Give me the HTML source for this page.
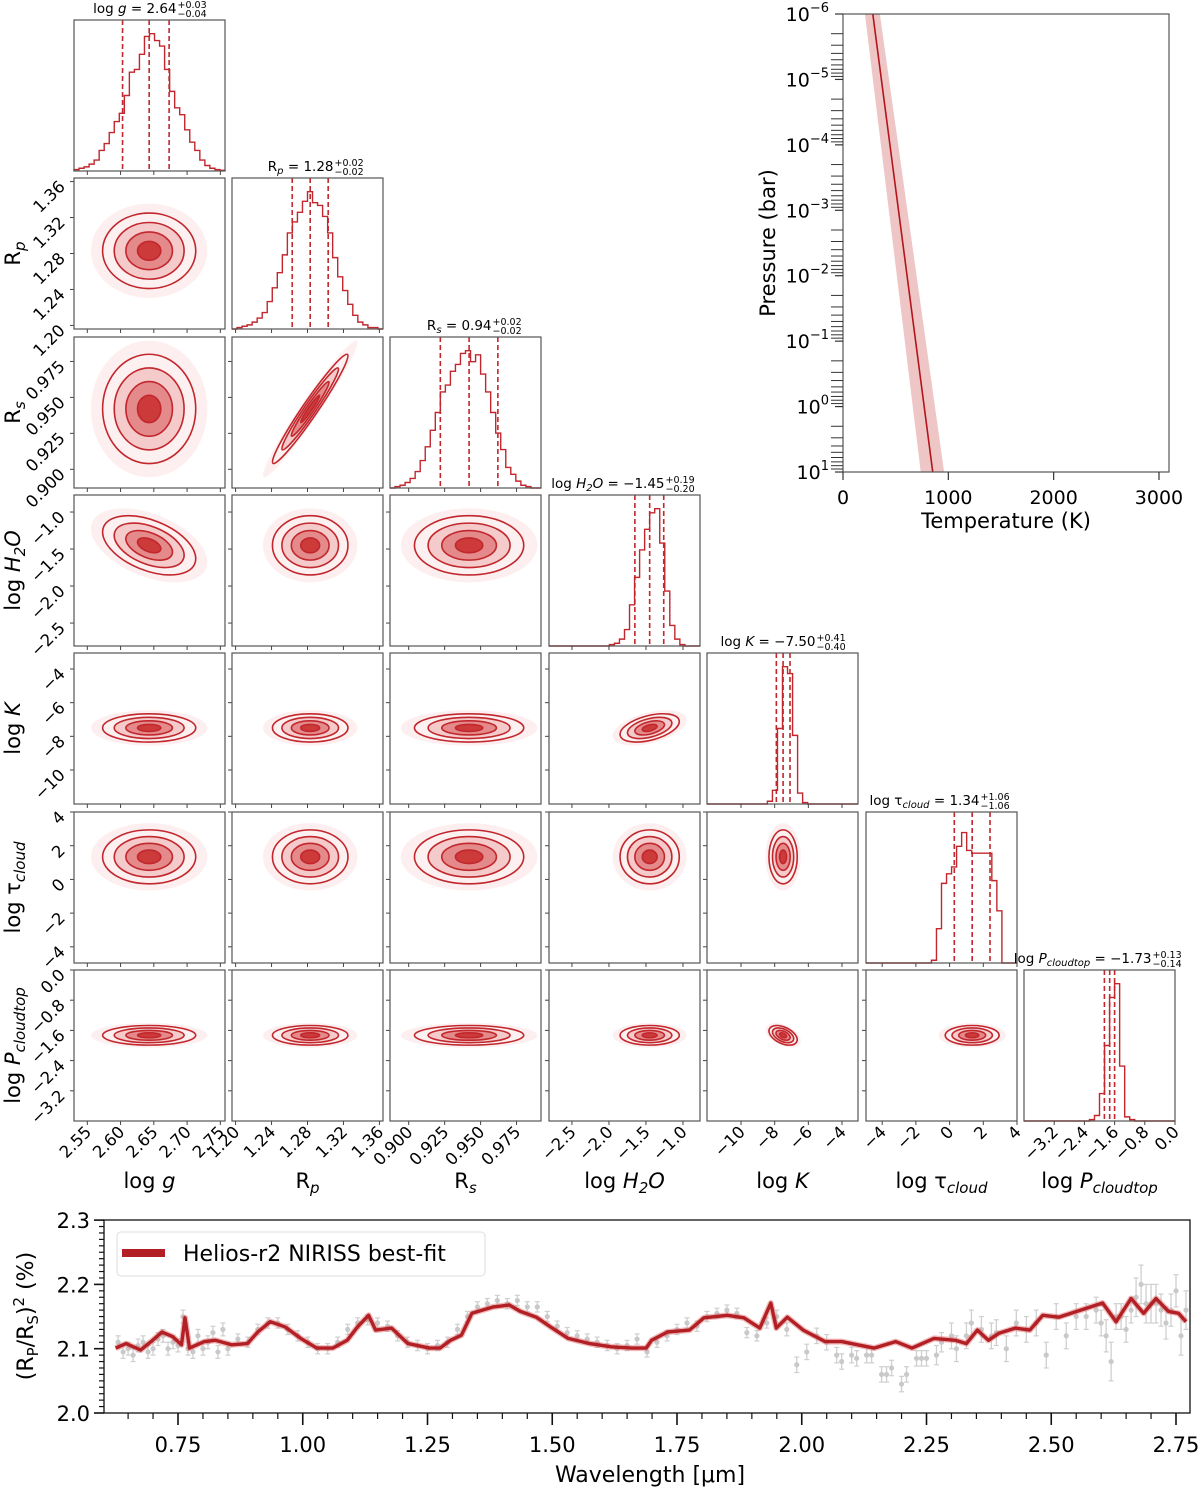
<!DOCTYPE html>
<html><head><meta charset="utf-8">
<style>body{margin:0;background:#fff}svg{display:block;font-family:"DejaVu Sans","Liberation Sans",sans-serif}</style>
</head><body>
<svg id="fig" width="1200" height="1490" viewBox="0 0 1200 1490"></svg>
<script>
// ---------- corner plot data ----------
const paramMin=[2.530,1.196,0.887,-2.81,-12.02,-4.96,-4.0];
const paramMax=[2.757,1.364,0.992,-0.77,-3.05,4.0,0.0];
const medians=[2.643,1.283,0.942,-1.45,-7.50,1.34,-1.73];
const errPlus=[0.03,0.02,0.02,0.19,0.41,1.06,0.13];
const errMinus=[0.04,0.02,0.02,0.20,0.40,1.06,0.14];
const sigmas=[0.035,0.021,0.019,0.2,0.42,0.8,0.13];
const correlations=[[0,3,-0.45],[1,2,0.97],[3,4,0.45],[4,6,-0.45]];
const tickVals=[[2.55,2.60,2.65,2.70,2.75],[1.20,1.24,1.28,1.32,1.36],[0.900,0.925,0.950,0.975],[-2.5,-2.0,-1.5,-1.0],[-10,-8,-6,-4],[-4,-2,0,2,4],[-3.2,-2.4,-1.6,-0.8,0.0]];
const tickDec=[2,2,3,1,0,0,1];
const hist0=[0.01,0.02,0.03,0.05,0.08,0.15,0.2,0.28,0.36,0.42,0.55,0.72,0.74,0.85,0.98,1.0,0.95,0.91,0.74,0.58,0.46,0.41,0.3,0.21,0.15,0.08,0.04,0.02,0.01,0.005];
const hist1=[0,0.01,0.02,0.03,0.05,0.08,0.12,0.2,0.3,0.41,0.54,0.7,0.78,0.85,0.93,1.0,0.92,0.9,0.82,0.7,0.52,0.38,0.28,0.18,0.1,0.05,0.03,0.01,0.01,0];
const hist2=[0,0.01,0.02,0.04,0.07,0.12,0.2,0.3,0.42,0.55,0.7,0.75,0.85,0.9,0.98,1.0,0.92,0.97,0.83,0.7,0.55,0.4,0.28,0.15,0.1,0.05,0.02,0.01,0,0];
const hist3=[0,0,0,0,0,0,0,0,0,0,0,0,0.01,0.02,0.05,0.12,0.3,0.5,0.7,0.85,0.97,1.0,0.75,0.4,0.15,0.05,0.01,0,0,0];
const hist4=[0,0,0,0,0,0,0,0,0,0,0,0,0.02,0.1,0.55,1.0,0.95,0.5,0.08,0.01,0,0,0,0,0,0,0,0,0,0];
const hist5=[0,0,0,0,0,0,0,0,0,0,0,0,0,0.02,0.25,0.58,0.65,0.7,0.85,0.95,0.82,0.8,0.8,0.8,0.8,0.6,0.38,0,0,0];
const hist6=[0,0,0,0,0,0,0,0,0,0,0,0,0,0.01,0.04,0.2,0.55,0.9,1.0,0.4,0.03,0.01,0,0,0,0,0,0,0,0];
const hists=[hist0,hist1,hist2,hist3,hist4,hist5,hist6];
// ---------- T-P data ----------
const tpLogP=[-6,1];
const tpTemp=[283,852];
const tpLow=[208,738];
const tpHigh=[350,960];
// ---------- spectrum data ----------
const modelWl=[0.625,0.646,0.675,0.696,0.718,0.739,0.757,0.764,0.773,0.803,0.825,0.857,0.889,0.910,0.935,0.964,0.996,1.028,1.060,1.089,1.110,1.132,1.146,1.178,1.211,1.254,1.275,1.296,1.318,1.339,1.382,1.414,1.436,1.468,1.500,1.532,1.575,1.618,1.660,1.688,1.699,1.731,1.775,1.804,1.851,1.884,1.916,1.938,1.949,1.971,2.003,2.047,2.080,2.112,2.145,2.188,2.221,2.265,2.308,2.330,2.352,2.374,2.395,2.428,2.457,2.483,2.515,2.559,2.603,2.630,2.660,2.685,2.710,2.735,2.755,2.770];
const modelVal=[2.101,2.108,2.098,2.111,2.126,2.119,2.106,2.148,2.101,2.111,2.113,2.106,2.108,2.126,2.142,2.134,2.116,2.101,2.101,2.113,2.134,2.152,2.129,2.132,2.108,2.101,2.101,2.113,2.121,2.155,2.165,2.168,2.158,2.149,2.132,2.116,2.108,2.103,2.101,2.101,2.113,2.126,2.129,2.148,2.152,2.148,2.132,2.171,2.132,2.149,2.129,2.111,2.111,2.106,2.101,2.111,2.101,2.116,2.113,2.108,2.129,2.113,2.124,2.132,2.129,2.152,2.149,2.160,2.171,2.142,2.178,2.155,2.178,2.158,2.155,2.142];
const dataWl=[0.63,0.64,0.65,0.66,0.67,0.68,0.69,0.70,0.71,0.72,0.73,0.74,0.75,0.76,0.77,0.78,0.79,0.80,0.81,0.82,0.83,0.84,0.85,0.87,0.89,0.91,0.93,0.95,0.97,0.99,1.01,1.03,1.05,1.07,1.09,1.11,1.13,1.15,1.17,1.19,1.21,1.23,1.25,1.27,1.29,1.31,1.33,1.35,1.37,1.39,1.41,1.43,1.45,1.47,1.49,1.51,1.53,1.55,1.57,1.59,1.61,1.63,1.65,1.67,1.69,1.71,1.73,1.75,1.77,1.79,1.81,1.83,1.85,1.87,1.89,1.91,1.93,1.95,1.97,1.99,2.01,2.03,2.05,2.07,2.08,2.10,2.11,2.13,2.14,2.16,2.17,2.18,2.20,2.21,2.23,2.24,2.25,2.27,2.28,2.30,2.31,2.33,2.34,2.36,2.38,2.39,2.41,2.43,2.45,2.47,2.49,2.51,2.53,2.55,2.57,2.59,2.60,2.61,2.62,2.63,2.64,2.65,2.66,2.67,2.68,2.69,2.70,2.71,2.72,2.73,2.74,2.75,2.76,2.77];
const dataVal=[2.11,2.095,2.10,2.09,2.105,2.11,2.095,2.10,2.115,2.12,2.10,2.11,2.105,2.15,2.10,2.095,2.12,2.10,2.11,2.125,2.095,2.13,2.10,2.115,2.11,2.13,2.14,2.14,2.13,2.12,2.11,2.10,2.10,2.11,2.13,2.14,2.145,2.14,2.135,2.12,2.11,2.105,2.10,2.105,2.11,2.13,2.15,2.165,2.17,2.175,2.17,2.175,2.165,2.165,2.15,2.135,2.125,2.12,2.115,2.11,2.105,2.10,2.105,2.115,2.095,2.11,2.12,2.13,2.14,2.135,2.15,2.155,2.16,2.155,2.125,2.12,2.14,2.15,2.13,2.075,2.095,2.12,2.11,2.09,2.08,2.09,2.085,2.09,2.09,2.06,2.06,2.07,2.045,2.06,2.085,2.085,2.085,2.09,2.11,2.12,2.10,2.12,2.14,2.13,2.12,2.125,2.10,2.14,2.13,2.14,2.09,2.15,2.12,2.15,2.15,2.16,2.14,2.12,2.08,2.15,2.15,2.13,2.16,2.18,2.20,2.17,2.17,2.17,2.16,2.14,2.16,2.19,2.12,2.16];
const dataErr=[0.01,0.01,0.01,0.01,0.01,0.01,0.01,0.01,0.01,0.01,0.01,0.01,0.01,0.01,0.01,0.01,0.01,0.01,0.01,0.01,0.01,0.01,0.01,0.008,0.008,0.008,0.008,0.008,0.008,0.008,0.008,0.008,0.008,0.008,0.008,0.008,0.008,0.008,0.008,0.008,0.008,0.008,0.008,0.008,0.008,0.008,0.008,0.008,0.008,0.008,0.008,0.008,0.008,0.008,0.008,0.008,0.008,0.008,0.008,0.008,0.008,0.008,0.008,0.008,0.008,0.008,0.008,0.008,0.008,0.008,0.008,0.008,0.008,0.008,0.008,0.008,0.008,0.01,0.01,0.012,0.012,0.012,0.012,0.012,0.012,0.012,0.012,0.012,0.012,0.012,0.012,0.012,0.012,0.012,0.012,0.012,0.012,0.015,0.015,0.02,0.02,0.02,0.02,0.02,0.02,0.02,0.02,0.02,0.02,0.02,0.02,0.02,0.02,0.02,0.02,0.02,0.02,0.025,0.03,0.02,0.02,0.02,0.02,0.03,0.03,0.03,0.03,0.03,0.025,0.025,0.025,0.025,0.03,0.03,0.03];

const NS='http://www.w3.org/2000/svg';
const svg=document.getElementById('fig');
function mk(tag,name,attrs,parent){
  const e=document.createElementNS(NS,tag);
  
  
  for(const k in attrs)e.setAttribute(k,attrs[k]);
  (parent||svg).appendChild(e);return e;
}
const RED='#c1272d';
const W=151;
const colX=[74,232,390,549,707,866,1024];
const rowY=[20,178,337,495,653,812,970];
function px(i,v){return colX[i]+(v-paramMin[i])/(paramMax[i]-paramMin[i])*W;}
function py(j,v){return rowY[j]+W-(v-paramMin[j])/(paramMax[j]-paramMin[j])*W;}
function fmt(v,d){return v.toFixed(d).replace('-','−');}
const labelHTML=[
 'log <tspan font-style="italic">g</tspan>',
 'R<tspan font-size="15" font-style="italic" dy="5">p</tspan>',
 'R<tspan font-size="15" font-style="italic" dy="5">s</tspan>',
 'log <tspan font-style="italic">H</tspan><tspan font-size="15" font-style="italic" dy="5">2</tspan><tspan font-style="italic" dy="-5">O</tspan>',
 'log <tspan font-style="italic">K</tspan>',
 'log τ<tspan font-size="15" font-style="italic" dy="5">cloud</tspan>',
 'log <tspan font-style="italic">P</tspan><tspan font-size="15" font-style="italic" dy="5">cloudtop</tspan>'];
const titleHTML=[
 'log <tspan font-style="italic">g</tspan> = ',
 'R<tspan font-size="10" font-style="italic" dy="3">p</tspan><tspan dy="-3"> = </tspan>',
 'R<tspan font-size="10" font-style="italic" dy="3">s</tspan><tspan dy="-3"> = </tspan>',
 'log <tspan font-style="italic">H</tspan><tspan font-size="10" font-style="italic" dy="3">2</tspan><tspan font-style="italic" dy="-3">O</tspan> = ',
 'log <tspan font-style="italic">K</tspan> = ',
 'log τ<tspan font-size="10" font-style="italic" dy="3">cloud</tspan><tspan dy="-3"> = </tspan>',
 'log <tspan font-style="italic">P</tspan><tspan font-size="10" font-style="italic" dy="3">cloudtop</tspan><tspan dy="-3"> = </tspan>'];
const titleShift=[27,26,26,40,33,38,52];
function corr(i,j){for(const c of correlations){if((c[0]===i&&c[1]===j)||(c[0]===j&&c[1]===i))return c[2];}return 0;}

const defs=mk('defs','defs',{});
for(let j=0;j<7;j++){
 for(let i=0;i<=j;i++){
  const x0=colX[i],y0=rowY[j];
  const g=mk('g','panel-'+i+'-'+j,{});
  if(i===j){
   const h=hists[i],n=h.length,bw=W/n,bot=y0+W;
   let d='M'+x0+','+bot;
   for(let k=0;k<n;k++){const yy=bot-h[k]/1.1*W;d+=' L'+(x0+k*bw)+','+yy+' L'+(x0+(k+1)*bw)+','+yy;}
   d+=' L'+(x0+W)+','+bot;
   mk('path','histogram-'+i,{d:d,fill:'none',stroke:RED,'stroke-width':1.4},g);
   const qs=[medians[i]-errMinus[i],medians[i],medians[i]+errPlus[i]];
   qs.forEach((q,k)=>{const xx=px(i,q);
    mk('line','quantile-line-'+i+'-'+k,{x1:xx,x2:xx,y1:y0,y2:bot,stroke:RED,'stroke-width':1.6,'stroke-dasharray':'5,3'},g);});
   const cx=x0+W/2+titleShift[i];
   const t=mk('text','title-'+i,{x:cx,y:y0-7,'font-size':13.5,'text-anchor':'end'},g);
   t.innerHTML=titleHTML[i]+fmt(medians[i],2);
   const sp=mk('text','title-plus-'+i,{x:cx+1,y:y0-12,'font-size':9.5},g);sp.textContent='+'+errPlus[i].toFixed(2);
   const sm=mk('text','title-minus-'+i,{x:cx+1,y:y0-3,'font-size':9.5},g);sm.textContent='−'+errMinus[i].toFixed(2);
  } else {
   const cp=mk('clipPath','clip-'+i+'-'+j,{id:'c'+i+'_'+j},defs);
   mk('rect','clip-rect',{x:x0,y:y0,width:W,height:W},cp);
   const gg=mk('g','density-'+i+'-'+j,{'clip-path':'url(#c'+i+'_'+j+')'},g);
   const cx=px(i,medians[i]),cy=py(j,medians[j]);
   const sx=sigmas[i]*W/(paramMax[i]-paramMin[i]),sy=sigmas[j]*W/(paramMax[j]-paramMin[j]);
   const rho=corr(i,j);
   const a=sx*sx,b=sy*sy,c=-rho*sx*sy;
   const th=0.5*Math.atan2(2*c,a-b)*180/Math.PI;
   const s=Math.sqrt(((a-b)/2)**2+c*c);
   const l1=Math.sqrt((a+b)/2+s),l2=Math.sqrt(Math.max((a+b)/2-s,0.5));
   const fills=[[2.5,'#fbe4e4',0.6],[2,'#fdf0f0',1],[1.5,'#f4caca',1],[1,'#e48a8a',1],[0.5,'#cc3a3a',1]];
   fills.forEach(f=>mk('ellipse','density-level',{cx:cx,cy:cy,rx:f[0]*l1,ry:f[0]*l2,fill:f[1],opacity:f[2],transform:'rotate('+th+' '+cx+' '+cy+')'},gg));
   [0.5,1,1.5,2].forEach(r=>mk('ellipse','contour',{cx:cx,cy:cy,rx:r*l1,ry:r*l2,fill:'none',stroke:RED,'stroke-width':1.6,transform:'rotate('+th+' '+cx+' '+cy+')'},gg));
   tickVals[j].forEach(v=>{const yy=py(j,v);mk('line','y-tick',{x1:x0-4,x2:x0,y1:yy,y2:yy,stroke:'#444','stroke-width':1},g);});
  }
  mk('rect','panel-frame',{x:x0,y:y0,width:W,height:W,fill:'none',stroke:'#555','stroke-width':1.2},g);
  tickVals[i].forEach(v=>{const xx=px(i,v);mk('line','x-tick',{x1:xx,x2:xx,y1:y0+W,y2:y0+W+4,stroke:'#444','stroke-width':1},g);});
  if(j===6){
   tickVals[i].forEach(v=>{const xx=px(i,v)+5,yy=y0+W+12;
    const t=mk('text','x-tick-label',{x:xx,y:yy,'font-size':16.5,'text-anchor':'end',transform:'rotate(-45 '+xx+' '+yy+')'},g);t.textContent=fmt(v,tickDec[i]);});
   const xl=mk('text','x-axis-label-'+i,{x:x0+W/2,y:1188,'font-size':21,'text-anchor':'middle'},g);xl.innerHTML=labelHTML[i];
  }
  if(i===0&&j>0){
   tickVals[j].forEach(v=>{const xx=x0-8,yy=py(j,v)+6;
    const t=mk('text','y-tick-label',{x:xx,y:yy,'font-size':16.5,'text-anchor':'end',transform:'rotate(-45 '+xx+' '+yy+')'},g);t.textContent=fmt(v,tickDec[j]);});
   const yc=y0+W/2;
   const yl=mk('text','y-axis-label-'+j,{x:20,y:yc,'font-size':21,'text-anchor':'middle',transform:'rotate(-90 20 '+yc+')'},g);yl.innerHTML=labelHTML[j];
  }
 }
}

// ---------- T-P profile ----------
const tp=mk('g','tp-profile-chart',{});
function tx(T){return 843+T*0.10533;}
function ty(lp){return 14+(lp+6)*65.43;}
let band='';
tpLogP.forEach((p,k)=>band+=(k?' L':'M')+tx(tpLow[k])+','+ty(p));
for(let k=tpLogP.length-1;k>=0;k--)band+=' L'+tx(tpHigh[k])+','+ty(tpLogP[k]);
const tcp=mk('clipPath','tp-clip',{id:'tpc'},defs);
mk('rect','tp-clip-rect',{x:843,y:14,width:326,height:458},tcp);
const tpg=mk('g','tp-series',{'clip-path':'url(#tpc)'},tp);
mk('path','tp-uncertainty-band',{d:band+' Z',fill:'#e9b3b3',opacity:0.75},tpg);
let ln='';tpLogP.forEach((p,k)=>ln+=(k?' L':'M')+tx(tpTemp[k])+','+ty(p));
mk('path','tp-profile-line',{d:ln,fill:'none',stroke:'#b3151c','stroke-width':1.6},tpg);
mk('rect','tp-frame',{x:843,y:14,width:326,height:458,fill:'none',stroke:'#555','stroke-width':1.2},tp);
for(let d=-6;d<=1;d++){
 const yy=ty(d);
 mk('line','tp-y-major-tick',{x1:835,x2:843,y1:yy,y2:yy,stroke:'#333','stroke-width':1.2},tp);
 const t=mk('text','tp-y-tick-label',{x:829,y:yy+7,'font-size':19,'text-anchor':'end'},tp);
 t.innerHTML='10<tspan font-size="13" dy="-9">'+(d<0?'−':'')+Math.abs(d)+'</tspan>';
 if(d<1)for(let m=2;m<=9;m++){const y2=ty(d+Math.log10(m));
  mk('line','tp-y-minor-tick',{x1:831,x2:843,y1:y2,y2:y2,stroke:'#333','stroke-width':1},tp);}
}
[0,1000,2000,3000].forEach(T=>{const xx=tx(T);
 mk('line','tp-x-tick',{x1:xx,x2:xx,y1:472,y2:480,stroke:'#333','stroke-width':1.2},tp);
 const t=mk('text','tp-x-tick-label',{x:xx,y:504,'font-size':19,'text-anchor':'middle'},tp);t.textContent=T;});
const tpx=mk('text','tp-x-axis-title',{x:1006,y:528,'font-size':21,'text-anchor':'middle'},tp);tpx.textContent='Temperature (K)';
const tpy=mk('text','tp-y-axis-title',{x:775,y:243,'font-size':21,'text-anchor':'middle',transform:'rotate(-90 775 243)'},tp);tpy.textContent='Pressure (bar)';

// ---------- spectrum ----------
const sp=mk('g','spectrum-chart',{});
function sx(w){return 178+(w-0.75)*499;}
function sy(v){return 1413-(v-2)*643;}
const dg=mk('g','data-points',{},sp);
dataWl.forEach((w,k)=>{const xx=sx(w),y1=sy(dataVal[k]-dataErr[k]),y2=sy(dataVal[k]+dataErr[k]);
 mk('line','data-errorbar',{x1:xx,x2:xx,y1:y1,y2:y2,stroke:'#cfcfcf','stroke-width':1.3},dg);
 mk('line','data-cap',{x1:xx-2.5,x2:xx+2.5,y1:y1,y2:y1,stroke:'#cfcfcf','stroke-width':1.2},dg);
 mk('line','data-cap',{x1:xx-2.5,x2:xx+2.5,y1:y2,y2:y2,stroke:'#cfcfcf','stroke-width':1.2},dg);
 mk('circle','data-point',{cx:xx,cy:sy(dataVal[k]),r:2.6,fill:'#c9c9c9'},dg);});
let mp='';modelWl.forEach((w,k)=>mp+=(k?' L':'M')+sx(w).toFixed(1)+','+sy(modelVal[k]).toFixed(1));
mk('path','model-band',{d:mp,fill:'none',stroke:'#d66',opacity:0.45,'stroke-width':6,'stroke-linejoin':'round'},sp);
mk('path','model-line',{d:mp,fill:'none',stroke:'#b21f24','stroke-width':3.4,'stroke-linejoin':'round'},sp);
mk('rect','spectrum-frame',{x:104,y:1220,width:1086,height:193,fill:'none',stroke:'#111','stroke-width':1.3},sp);
for(let k=0;k<=30;k++){const v=2+k*0.01,yy=sy(v),maj=k%10===0;
 mk('line',maj?'y-major-tick':'y-minor-tick',{x1:maj?94:99,x2:104,y1:yy,y2:yy,stroke:'#111','stroke-width':maj?1.6:1.2},sp);
 if(maj){const t=mk('text','y-tick-label',{x:90,y:yy+8,'font-size':21,'text-anchor':'end'},sp);t.textContent=v.toFixed(1);}}
for(let k=0;k<=43;k++){const w=0.65+k*0.05;const xx=sx(w);if(xx<104||xx>1190)continue;
 const maj=Math.abs((w/0.25)-Math.round(w/0.25))<1e-6;
 mk('line',maj?'x-major-tick':'x-minor-tick',{x1:xx,x2:xx,y1:1413,y2:maj?1425:1419,stroke:'#111','stroke-width':maj?1.6:1.2},sp);
 if(maj){const t=mk('text','x-tick-label',{x:xx,y:1452,'font-size':21,'text-anchor':'middle'},sp);t.textContent=w.toFixed(2);}}
const sxl=mk('text','spectrum-x-axis-title',{x:650,y:1482,'font-size':22,'text-anchor':'middle'},sp);sxl.textContent='Wavelength [μm]';
const syl=mk('text','spectrum-y-axis-title',{x:33,y:1316,'font-size':22,'text-anchor':'middle',transform:'rotate(-90 33 1316)'},sp);
syl.innerHTML='(R<tspan font-size="15" dy="5">P</tspan><tspan dy="-5">/R</tspan><tspan font-size="15" dy="5">S</tspan><tspan dy="-5">)</tspan><tspan font-size="15" dy="-9">2</tspan><tspan dy="9"> (%)</tspan>';
const lg=mk('g','legend',{},sp);
mk('rect','legend-box',{x:117,y:1232,width:368,height:44,rx:4,fill:'#fff',stroke:'#ddd','stroke-width':1},lg);
mk('line','legend-swatch',{x1:122,x2:165,y1:1253,y2:1253,stroke:'#b21f24','stroke-width':8},lg);
const lt=mk('text','legend-label',{x:183,y:1261,'font-size':22},lg);lt.textContent='Helios-r2 NIRISS best-fit';
</script>
</body></html>
